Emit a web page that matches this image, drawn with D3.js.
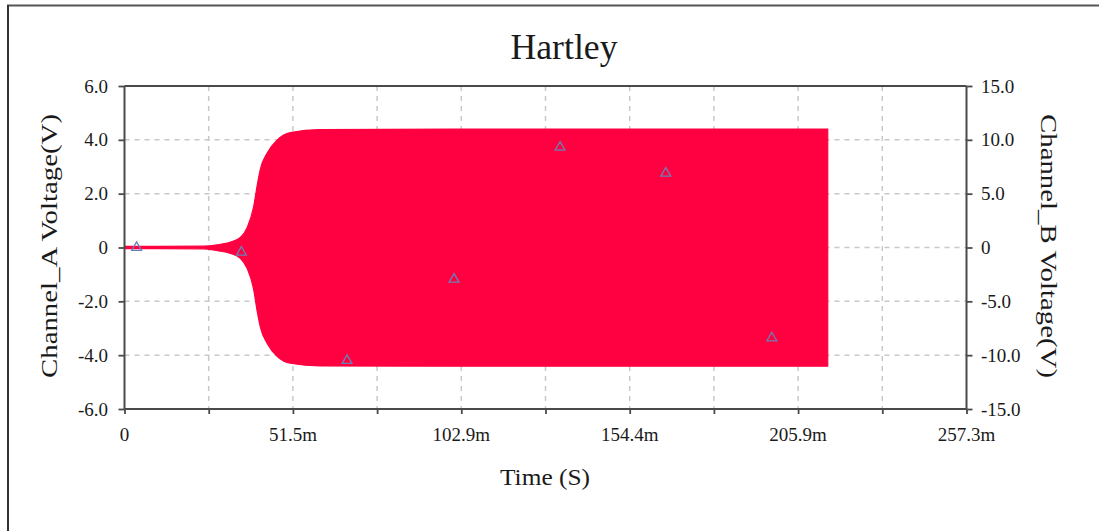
<!DOCTYPE html>
<html>
<head>
<meta charset="utf-8">
<script src="https://cdn.jsdelivr.net/npm/d3@7"></script>
<style>
  html, body { margin: 0; padding: 0; background: #fff; }
  svg { display: block; }
  text { font-family: "Liberation Serif", "Times New Roman", serif; fill: #1a1a1a; }
</style>
</head>
<body>
<svg id="chart" width="1099" height="531"></svg>
<script>
// ---- Data ----
const title = "Hartley";
const xLabel = "Time (S)";
const yLabelA = "Channel_A Voltage(V)";
const yLabelB = "Channel_B Voltage(V)";

// x axis in milliseconds
const xTickValues = [0, 51.46, 102.92, 154.38, 205.84, 257.3];
const xTickLabels = ["0", "51.5m", "102.9m", "154.4m", "205.9m", "257.3m"];
const yTicksA = [-6, -4, -2, 0, 2, 4, 6];
const yTickLabelsA = ["-6.0", "-4.0", "-2.0", "0", "2.0", "4.0", "6.0"];
const yTicksB = [-15, -10, -5, 0, 5, 10, 15];
const yTickLabelsB = ["-15.0", "-10.0", "-5.0", "0", "5.0", "10.0", "15.0"];

// Channel A: oscillation envelope (time ms, upper V, lower V)
const envTime  = [0,    24.1, 28.4, 32.4, 35.4, 37.5, 39.4, 40.6, 41.5, 43.7, 46.7, 50.7, 59.8, 100,  150,  200,  214.9];
const envUpper = [0.04, 0.05, 0.10, 0.20, 0.37, 0.74, 1.48, 2.34, 2.90, 3.53, 4.00, 4.27, 4.38, 4.40, 4.40, 4.40, 4.40];
const envLower = [-0.04,-0.05,-0.12,-0.22,-0.40,-0.78,-1.52,-2.40,-2.95,-3.58,-4.05,-4.30,-4.40,-4.41,-4.41,-4.41,-4.41];

// Channel B: sampled markers (time ms, V)
const bTime   = [3.7, 35.7, 68.0, 100.7, 133.1, 165.4, 197.8];
const bValues = [0.0, -0.45, -10.5, -2.95, 9.3, 6.9, -8.4];

// ---- Layout ----
const svg = d3.select("#chart");
const L = 124.5, R = 966.5, T = 86, B = 409;
const axisColor = "#4a4a4a";

const x = d3.scaleLinear().domain([0, 257.3]).range([L, R]);
const yA = d3.scaleLinear().domain([-6, 6]).range([B, T]);
const yB = d3.scaleLinear().domain([-15, 15]).range([B, T]);

// outer frame (top and left edges visible)
svg.append("line").attr("x1", 7).attr("x2", 1099).attr("y1", 5.5).attr("y2", 5.5)
  .attr("stroke", "#555").attr("stroke-width", 2);
svg.append("line").attr("x1", 8).attr("x2", 8).attr("y1", 5).attr("y2", 531)
  .attr("stroke", "#333").attr("stroke-width", 2);

// grid
const grid = svg.append("g").attr("stroke", "#c8c8c8").attr("stroke-width", 1.5).attr("stroke-dasharray", "5,5");
const xGridVals = [];
for (let i = 1; i < xTickValues.length * 2 - 2; i++) xGridVals.push(257.3 * i / 10);
grid.selectAll("line.v").data(xGridVals).join("line")
  .attr("x1", d => x(d)).attr("x2", d => x(d)).attr("y1", T).attr("y2", B);
grid.selectAll("line.h").data(yTicksA.slice(1, -1)).join("line")
  .attr("x1", L).attr("x2", R).attr("y1", d => yA(d)).attr("y2", d => yA(d));

// Channel A envelope
const envData = envTime.map((t, i) => ({ t, hi: envUpper[i], lo: envLower[i] }));
const area = d3.area().x(d => x(d.t)).y0(d => yA(d.lo)).y1(d => yA(d.hi)).curve(d3.curveMonotoneX);
svg.append("path").datum(envData).attr("d", area)
  .attr("fill", "#ff0040").attr("stroke", "#ff0040").attr("stroke-width", 1.2);

// Channel B markers
const tri = d3.symbol().type(d3.symbolTriangle).size(42);
svg.append("g").selectAll("path").data(bTime.map((t, i) => ({ t, v: bValues[i] }))).join("path")
  .attr("d", tri)
  .attr("transform", d => `translate(${x(d.t)},${yB(d.v)})`)
  .attr("fill", "none").attr("stroke", "#6a80b8").attr("stroke-width", 1.3);

// axes
const xMinor = xGridVals.concat([0, 257.3]);
const axB = d3.axisBottom(x).tickValues(xMinor).tickSize(5).tickFormat("");
const gx = svg.append("g").attr("transform", `translate(0,${B})`).call(axB);
const axL = d3.axisLeft(yA).tickValues(yTicksA).tickSize(6).tickFormat("");
const gl = svg.append("g").attr("transform", `translate(${L},0)`).call(axL);
const axR = d3.axisRight(yB).tickValues(yTicksB).tickSize(6).tickFormat("");
const gr = svg.append("g").attr("transform", `translate(${R},0)`).call(axR);
[gx, gl, gr].forEach(g => {
  g.select(".domain").remove();
  g.selectAll(".tick line").attr("stroke", axisColor).attr("stroke-width", 1.8);
});
// axis box lines
svg.append("g").attr("stroke", axisColor).attr("stroke-width", 2).attr("fill", "none")
  .selectAll("line").data([[L, T, R, T], [L, B, R, B], [L, T, L, B], [R, T, R, B]]).join("line")
  .attr("x1", d => d[0]).attr("y1", d => d[1]).attr("x2", d => d[2]).attr("y2", d => d[3]);

// tick labels
const fs = 19;
svg.append("g").selectAll("text").data(xTickValues).join("text")
  .attr("x", d => x(d)).attr("y", 441).attr("text-anchor", "middle").attr("font-size", fs)
  .text((d, i) => xTickLabels[i]);
svg.append("g").selectAll("text").data(yTicksA).join("text")
  .attr("x", 108).attr("y", d => yA(d) + 6.5).attr("text-anchor", "end").attr("font-size", fs)
  .text((d, i) => yTickLabelsA[i]);
svg.append("g").selectAll("text").data(yTicksB).join("text")
  .attr("x", 981).attr("y", d => yB(d) + 6.5).attr("text-anchor", "start").attr("font-size", fs)
  .text((d, i) => yTickLabelsB[i]);

// titles
svg.append("text").attr("x", 564).attr("y", 59).attr("text-anchor", "middle")
  .attr("font-size", 35).attr("textLength", 107).attr("lengthAdjust", "spacingAndGlyphs").text(title);
svg.append("text").attr("x", 545).attr("y", 485).attr("text-anchor", "middle")
  .attr("font-size", 24).attr("textLength", 90).attr("lengthAdjust", "spacingAndGlyphs").text(xLabel);
svg.append("text").attr("transform", `translate(57,246) rotate(-90)`).attr("text-anchor", "middle")
  .attr("font-size", 24).attr("textLength", 264).attr("lengthAdjust", "spacingAndGlyphs").text(yLabelA);
svg.append("text").attr("transform", `translate(1041,246) rotate(90)`).attr("text-anchor", "middle")
  .attr("font-size", 24).attr("textLength", 264).attr("lengthAdjust", "spacingAndGlyphs").text(yLabelB);
</script>
</body>
</html>
